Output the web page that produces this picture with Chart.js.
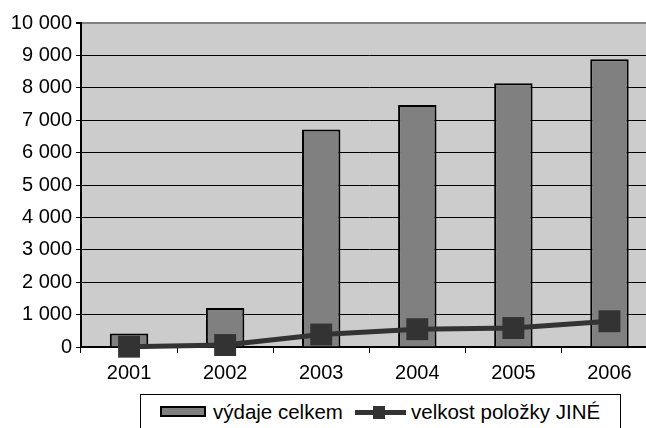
<!DOCTYPE html>
<html>
<head>
<meta charset="utf-8">
<script src="https://cdn.jsdelivr.net/npm/chart.js@4/dist/chart.umd.min.js"></script>
<style>
  html, body { margin: 0; padding: 0; background: #fff; overflow: hidden; width: 646px; height: 428px; }
  #wrap { position: absolute; left: 0; top: 0; width: 673px; height: 428px; }
  .lg { position: absolute; font-family: "Liberation Sans", Arial, sans-serif; font-size: 20.5px; line-height: 20px; color: #000; white-space: nowrap; }
  #legendBox { position: absolute; left: 140px; top: 394px; width: 481px; height: 60px; border: 1px solid #000; background: #fff; box-sizing: border-box; }
</style>
</head>
<body>
<div id="wrap"><canvas id="c" width="673" height="428"></canvas></div>
<div id="legendBox"></div>
<div id="sw1" style="position:absolute;left:160px;top:406px;width:46px;height:11px;background:#808080;border:2px solid #000;box-sizing:border-box;"></div>
<div id="t1" class="lg" style="left:213px;top:401.6px;"></div>
<div style="position:absolute;left:355px;top:410px;width:51px;height:5px;background:#333333;"></div>
<div style="position:absolute;left:373px;top:406px;width:12px;height:13px;background:#333333;"></div>
<div id="t2" class="lg" style="left:411px;top:401.6px;"></div>
<script>
const categories = ['2001', '2002', '2003', '2004', '2005', '2006'];
const seriesNames = ['výdaje celkem', 'velkost položky JINÉ'];
const vydajeCelkem = [420, 1200, 6710, 7470, 8140, 8880];
const polozkaJine = [10, 60, 385, 550, 585, 795];
const yTickLabels = ['0', '1 000', '2 000', '3 000', '4 000', '5 000', '6 000', '7 000', '8 000', '9 000', '10 000'];

document.getElementById('t1').textContent = seriesNames[0];
document.getElementById('t2').textContent = seriesNames[1];

Chart.defaults.font.family = '"Liberation Sans", Arial, sans-serif';
Chart.defaults.font.size = 20;
Chart.defaults.color = '#000';

const plotBg = {
  id: 'plotBg',
  beforeDraw(chart) {
    const a = chart.chartArea, ctx = chart.ctx;
    ctx.save();
    ctx.fillStyle = '#cccccc';
    ctx.fillRect(a.left, a.top, a.right - a.left, a.bottom - a.top);
    ctx.restore();
  }
};

new Chart(document.getElementById('c'), {
  data: {
    labels: categories,
    datasets: [
      {
        type: 'bar',
        label: seriesNames[0],
        data: vydajeCelkem,
        backgroundColor: '#808080',
        borderColor: '#000000',
        borderWidth: 2,
        borderSkipped: 'bottom',
        barPercentage: 0.4,
        categoryPercentage: 1.0,
        order: 2
      },
      {
        type: 'line',
        label: seriesNames[1],
        data: polozkaJine,
        borderColor: '#333333',
        borderWidth: 5,
        backgroundColor: '#333333',
        pointStyle: 'rect',
        pointRadius: 15.5,
        pointBorderWidth: 0,
        pointBackgroundColor: '#333333',
        tension: 0,
        clip: false,
        order: 1
      }
    ]
  },
  options: {
    responsive: false,
    animation: false,
    events: [],
    layout: { padding: { top: 23, right: 0, left: 0, bottom: 0 } },
    plugins: { legend: { display: false }, tooltip: { enabled: false } },
    scales: {
      x: {
        type: 'category',
        offset: true,
        afterFit(s) { s.height = 81; },
        grid: { display: true, drawOnChartArea: false, drawTicks: true, tickLength: 6, color: '#000', offset: true },
        border: { display: true, color: '#000', width: 2 },
        ticks: { padding: 8, color: '#000', font: { size: 20 } }
      },
      y: {
        min: 0,
        max: 10000,
        afterFit(s) { s.width = 81; },
        grid: {
          color: ctx => (ctx.tick && ctx.tick.value === 10000) ? '#808080' : '#000',
          tickColor: '#000',
          lineWidth: ctx => (ctx.tick && ctx.tick.value === 10000) ? 2 : 1,
          tickLength: 5,
          drawTicks: true
        },
        border: { display: true, color: '#000', width: 2 },
        ticks: {
          stepSize: 1000,
          padding: 4,
          color: '#000',
          font: { size: 20 },
          callback: (v, i) => yTickLabels[i]
        }
      }
    }
  },
  plugins: [plotBg]
});
</script>
</body>
</html>
